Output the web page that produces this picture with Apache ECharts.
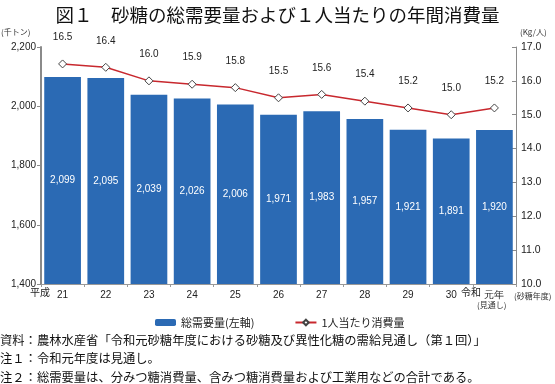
<!DOCTYPE html>
<html><head><meta charset="utf-8">
<script src="https://cdn.jsdelivr.net/npm/echarts@6/dist/echarts.min.js"></script>
<style>html,body{margin:0;padding:0;background:#fff}#c{width:555px;height:384px}</style>
</head><body><div id="c"></div>
<script>
const categories = ['21','22','23','24','25','26','27','28','29','30','元年'];
const demand = [2099,2095,2039,2026,2006,1971,1983,1957,1921,1891,1920];
const perCapita = [16.5,16.4,16.0,15.9,15.8,15.5,15.6,15.4,15.2,15.0,15.2];
const leftTicks = {min:1400, max:2200, interval:200};
const rightTicks = {min:10, max:17, interval:1};
const titleText = '図１　砂糖の総需要量および１人当たりの年間消費量';
const notes = [
 '資料：農林水産省「令和元砂糖年度における砂糖及び異性化糖の需給見通し（第１回）」',
 '注１：令和元年度は見通し。',
 '注２：総需要量は、分みつ糖消費量、含みつ糖消費量および工業用などの合計である。'
];
const FF = '"Noto Sans CJK JP", "Liberation Sans", sans-serif';
const chart = echarts.init(document.getElementById('c'), null, {renderer:'canvas'});
const fmt = v => v.toLocaleString('en-US');
chart.setOption({
  animation:false,
  textStyle:{fontFamily:FF},
  title:{text:titleText,left:'center',top:1,textStyle:{fontFamily:FF,fontSize:18.5,fontWeight:'normal',color:'#111'}},
  grid:{left:41,right:39,top:47,bottom:100},
  legend:{left:150,top:312,itemGap:40,itemWidth:21,itemHeight:7,
    textStyle:{fontFamily:FF,fontSize:11,color:'#222'},
    data:['総需要量(左軸)','1人当たり消費量']},
  xAxis:{type:'category',data:categories,
    axisLine:{lineStyle:{color:'#999',width:1}},
    axisTick:{show:true,length:3,lineStyle:{color:'#999'}},
    axisLabel:{fontSize:10,color:'#222',margin:6,fontFamily:'"Liberation Sans", sans-serif'}},
  yAxis:[
    {type:'value',min:leftTicks.min,max:leftTicks.max,interval:leftTicks.interval,
     splitLine:{show:false},
     axisLine:{show:true,lineStyle:{color:'#8a8a8a',width:2}},
     axisTick:{show:true,length:4,lineStyle:{color:'#8a8a8a'}},
     axisLabel:{fontSize:10,color:'#222',margin:5,formatter:v=>fmt(v),fontFamily:'"Liberation Sans", sans-serif'}},
    {type:'value',min:rightTicks.min,max:rightTicks.max,interval:rightTicks.interval,
     position:'right',splitLine:{show:false},
     axisLine:{show:true,lineStyle:{color:'#8a8a8a',width:1}},
     axisTick:{show:true,inside:true,length:4,lineStyle:{color:'#8a8a8a'}},
     axisLabel:{fontSize:10.5,color:'#222',margin:5,formatter:v=>v.toFixed(1),fontFamily:'"Liberation Sans", sans-serif'}}
  ],
  series:[
    {name:'総需要量(左軸)',type:'bar',data:demand,barCategoryGap:'15%',
     itemStyle:{color:'#2b6ab4'},
     label:{show:true,position:'inside',color:'#fff',fontSize:10,formatter:p=>fmt(p.value),fontFamily:'"Liberation Sans", sans-serif'}},
    {name:'1人当たり消費量',type:'line',yAxisIndex:1,data:perCapita,
     symbol:'diamond',symbolSize:8,
     lineStyle:{color:'#c8282e',width:1.5},
     itemStyle:{color:'#fff',borderColor:'#444',borderWidth:1},
     label:{show:true,position:'top',distance:17,color:'#222',fontSize:10,formatter:p=>p.value.toFixed(1),fontFamily:'"Liberation Sans", sans-serif'}}
  ],
  graphic:[
    {type:'text',left:1,top:28,style:{text:'(千トン)',font:'8px '+FF,fill:'#333'}},
    {type:'text',left:520,top:28,style:{text:'(Kg/人)',font:'8px '+FF,fill:'#333'}},
    {type:'text',left:30,top:287,style:{text:'平成',font:'10px '+FF,fill:'#222'}},
    {type:'text',left:461,top:287,style:{text:'令和',font:'10px '+FF,fill:'#222'}},
    {type:'text',left:477,top:301,style:{text:'(見通し)',font:'8px '+FF,fill:'#333'}},
    {type:'text',left:514,top:292,style:{text:'(砂糖年度)',font:'8px '+FF,fill:'#333'}},
    {type:'text',left:0,top:334,style:{text:notes[0],font:'12.3px '+FF,fill:'#111'}},
    {type:'text',left:0,top:352.5,style:{text:notes[1],font:'12.3px '+FF,fill:'#111'}},
    {type:'text',left:0,top:371,style:{text:notes[2],font:'12.3px '+FF,fill:'#111'}}
  ]
});
</script></body></html>
